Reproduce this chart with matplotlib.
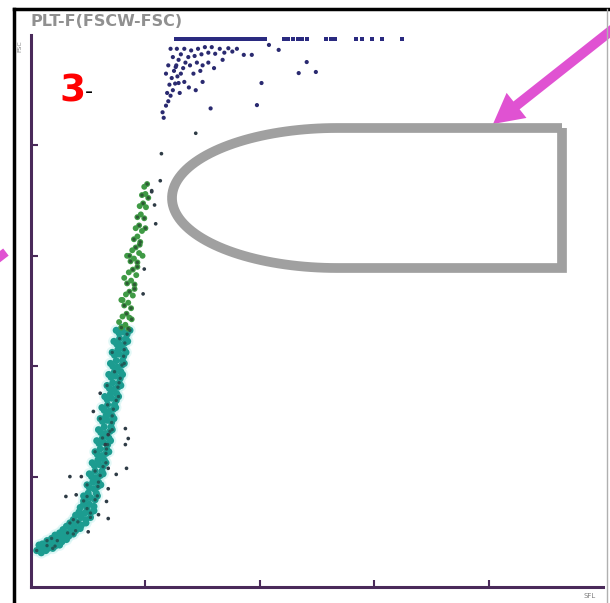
import numpy as np
import matplotlib
matplotlib.use("Agg")
import matplotlib.pyplot as plt
from matplotlib.patches import FancyArrow

# ---------------- data (channel units 0-1000) ----------------
band_x = [10, 16, 22, 28, 34, 40, 46, 52, 58, 64, 70, 76, 82, 88, 94, 98, 102,
          30, 42, 54, 66, 78, 88, 96, 104, 110,
          20, 36, 50, 62, 74, 84, 92, 98,
          96, 104, 112, 102, 110, 117, 106, 114, 121, 111, 119, 126, 116, 124, 131,
          119, 127, 134, 122, 130, 138, 125, 133, 141, 128, 136, 144, 133, 141, 149,
          137, 145, 152, 140, 148, 156, 143, 151, 159, 146, 154, 162, 150, 157, 164,
          154, 161, 168,
          100, 108, 112, 117, 121, 125, 128, 131, 134, 139, 143, 146, 149, 152, 155, 159,
          114, 118, 124, 128, 132, 136, 140, 142, 146, 150, 154, 157, 160, 163, 166,
          92, 98, 102, 107, 112, 115, 118, 121, 124, 129, 133, 136, 139, 142, 145, 149,
          116, 122, 126, 131, 136, 139, 142, 145, 148, 153, 157, 160, 163, 166, 169, 173,
          18, 26, 38, 50, 62, 74, 86, 96, 104, 110,
          14, 28, 42, 56, 68, 78, 86, 92]
band_y = [66, 70, 72, 75, 78, 80, 84, 88, 92, 98, 104, 110, 118, 126, 134, 142, 150,
          70, 74, 82, 92, 102, 112, 122, 134, 146,
          78, 88, 98, 110, 122, 136, 150, 164,
          160, 162, 158, 180, 178, 182, 200, 198, 202, 220, 222, 218, 240, 238, 242,
          260, 262, 258, 280, 278, 282, 300, 302, 298, 320, 318, 322, 340, 342, 338,
          360, 358, 362, 380, 382, 378, 400, 398, 402, 420, 422, 418, 440, 438, 442,
          460, 462, 458,
          170, 190, 210, 230, 250, 270, 290, 310, 330, 350, 370, 390, 410, 430, 450, 470,
          170, 190, 210, 230, 250, 270, 290, 310, 330, 350, 370, 390, 410, 430, 450,
          165, 185, 205, 225, 245, 265, 285, 305, 325, 345, 365, 385, 405, 425, 445, 465,
          165, 185, 205, 225, 245, 265, 285, 305, 325, 345, 365, 385, 405, 425, 445, 465,
          62, 66, 70, 76, 86, 96, 106, 116, 126, 138,
          76, 84, 94, 104, 116, 130, 144, 156]

green_x = [158, 165, 170, 160, 167, 172, 163, 170, 175, 166, 172, 178, 168, 175, 181,
           171, 178, 184, 174, 180, 186, 177, 183, 189, 180, 186, 191, 183, 189, 194,
           186, 192, 198, 190, 196, 201, 194, 200, 205, 198, 203, 195, 172, 160, 200,
           154, 176, 158, 181, 163, 186, 168, 190]
green_y = [470, 475, 468, 490, 495, 488, 510, 515, 505, 530, 535, 528, 550, 555, 548,
           570, 575, 565, 590, 595, 588, 610, 615, 605, 630, 635, 625, 650, 655, 645,
           670, 675, 668, 690, 695, 688, 710, 712, 705, 725, 730, 600, 600, 520, 650,
           480, 485, 520, 540, 560, 580, 600, 620]

out_x = [121, 109, 88, 79, 165, 170, 165, 167, 149, 135, 132, 135, 118, 100,
         196, 198, 218, 211, 226, 135, 130, 135, 68, 61, 228, 288, 216, 211]
out_y = [351, 318, 200, 167, 287, 269, 258, 215, 204, 178, 155, 124, 131, 100,
         531, 576, 658, 718, 736, 276, 258, 215, 200, 164, 785, 822, 692, 716]

blue_x = [236, 240, 244, 238, 248, 242, 252, 246, 256, 250, 262, 254, 266, 258, 270,
          262, 275, 268, 280, 286, 292, 298, 304, 310, 316, 322, 330, 338, 345, 352,
          360, 248, 240, 236, 244, 255, 278, 290, 300, 284, 296, 310, 320, 335, 268,
          276, 260, 314, 230, 232, 288, 300, 253, 258,
          403, 395, 482, 468, 498, 433, 416, 386, 372]
blue_y = [872, 880, 890, 895, 900, 910, 912, 922, 925, 935, 930, 945, 940, 955, 950,
          965, 960, 975, 972, 962, 975, 965, 978, 968, 978, 966, 975, 968, 976, 970,
          975, 960, 945, 930, 975, 975, 945, 950, 945, 930, 935, 950, 940, 955, 915,
          905, 895, 867, 860, 850, 900, 915, 942, 913,
          913, 873, 951, 931, 933, 973, 982, 964, 964]

sat_x = [254, 260, 266, 272, 278, 284, 290, 296, 302, 308, 314, 320, 326, 332, 338,
         344, 350, 356, 362, 368, 374, 380, 386, 392, 398, 404, 410,
         442, 450, 458, 466, 474, 482, 516, 524, 532, 568, 579, 596, 614, 649]
sat_y = [993] * len(sat_x)

xticks = [200, 400, 600, 800]
yticks = [200, 400, 600, 800]

# ---------------- figure ----------------
W, H = 610, 603
fig = plt.figure(figsize=(W / 100, H / 100), dpi=100)
fig.patch.set_facecolor("white")

L, R, B, T = 31, 603, 587, 35
ax = fig.add_axes([L / W, 1 - B / H, (R - L) / W, (B - T) / H])
ax.set_xlim(0, 1000)
ax.set_ylim(0, 1000)
purple = "#4a2a5a"
for s in ["top", "right"]:
    ax.spines[s].set_visible(False)
for s in ["left", "bottom"]:
    ax.spines[s].set_color(purple)
    ax.spines[s].set_linewidth(2.2)
ax.set_xticks(xticks)
ax.set_yticks(yticks)
ax.set_xticklabels([])
ax.set_yticklabels([])
ax.tick_params(direction="in", length=5, width=1.5, color=purple)

# halo of pale points
ax.scatter(band_x, band_y, s=70, color="#c8f2f0", edgecolors="none", alpha=0.5, zorder=1)
ax.scatter(band_x, band_y, s=26, color="#1c9c90", edgecolors="none", zorder=2)
ax.scatter(band_x[::3], band_y[::3], s=6, color="#205a58", edgecolors="none", zorder=3)
ax.scatter(green_x, green_y, s=18, color="#3f9a45", edgecolors="none", zorder=2)
ax.scatter(green_x[::2], green_y[::2], s=6, color="#2d5a35", edgecolors="none", zorder=3)
ax.scatter(out_x, out_y, s=7, color="#2e3b45", edgecolors="none", zorder=3)
ax.scatter(blue_x, blue_y, s=9, color="#2a2a70", edgecolors="none", zorder=3)
ax.scatter(sat_x, sat_y, s=8, marker="s", color="#2a2a80", edgecolors="none", zorder=3,
           clip_on=False)

# ---------------- overlay (pixel coordinates) ----------------
ov = fig.add_axes([0, 0, 1, 1], facecolor="none")
ov.set_xlim(0, W)
ov.set_ylim(H, 0)
ov.axis("off")

# outer frame
ov.plot([14, 14], [9, H], color="black", lw=2.5)
ov.plot([14, W], [9, 9], color="black", lw=2.5)
ov.plot([607, 607], [9, H], color="#b0b0b0", lw=1)

# title and axis labels
ov.text(31, 22, "PLT-F(FSCW-FSC)", fontsize=11.5, color="#909090", fontweight="bold",
        ha="left", va="center")
ov.text(20, 46, "FSC", fontsize=4.5, color="#808080", rotation=90, ha="center", va="center")
ov.text(590, 596, "SFL", fontsize=5, color="#808080", ha="center", va="center")

# red "3"
ov.text(59, 92, "3", fontsize=27, color="#ff0000", fontweight="bold", ha="left", va="center")
ov.text(85, 92, "-", fontsize=16, color="black", ha="left", va="center")

# grey rounded shape
cx, cy, a, b = 337, 198, 165, 70
th = np.linspace(np.pi / 2, 3 * np.pi / 2, 80)
arc_x = cx + a * np.cos(th)
arc_y = cy - b * np.sin(th)
px = np.concatenate([[562], arc_x, [562, 562]])
py = np.concatenate([[cy - b], arc_y, [cy + b, cy - b]])
ov.plot(px, py, color="#a0a0a0", lw=7, solid_joinstyle="miter", solid_capstyle="butt")

# magenta arrows
mag = "#e052d2"
ov.add_patch(FancyArrow(622, 22, 493 - 622, 124 - 22, width=10, head_width=32,
                        head_length=30, length_includes_head=True, color=mag, lw=0))
ov.add_patch(FancyArrow(-20, 272, 26, -20, width=9, head_width=0.1,
                        head_length=0.1, length_includes_head=True, color=mag, lw=0))

fig.savefig("out.png", dpi=100, facecolor="white")
